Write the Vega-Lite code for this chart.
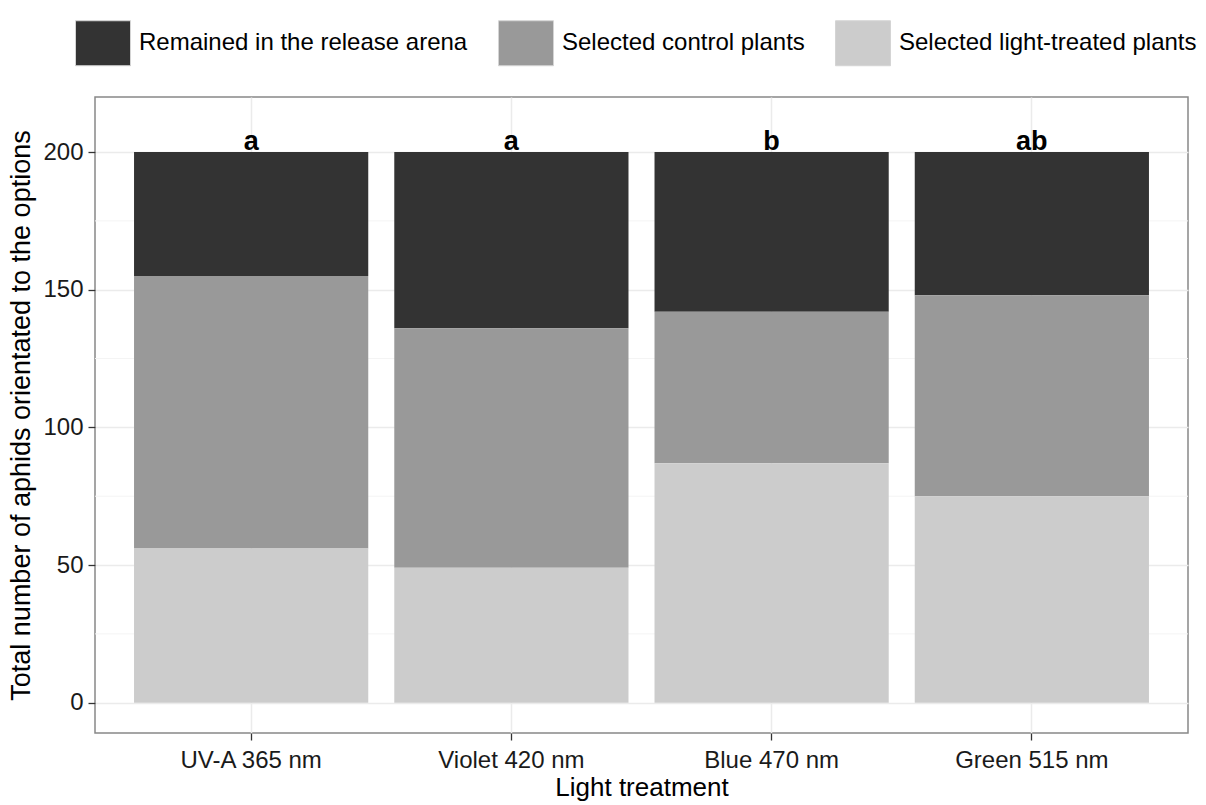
{
  "$schema": "https://vega.github.io/schema/vega-lite/v6.json",
  "autosize": "none",
  "width": 1093,
  "height": 636,
  "padding": {"left": 95, "top": 97, "right": 18, "bottom": 72},
  "background": "white",
  "config": {
    "font": "Liberation Sans",
    "view": {"stroke": "#888888", "strokeWidth": 1.5},
    "axis": {
      "labelFont": "Liberation Sans",
      "titleFont": "Liberation Sans",
      "labelFontSize": 24,
      "titleFontSize": 26,
      "titleFontWeight": "normal",
      "labelColor": "#1a1a1a",
      "titleColor": "#000000",
      "tickColor": "#333333",
      "tickSize": 7,
      "tickWidth": 1.3,
      "domain": false,
      "gridColor": "#ebebeb",
      "gridWidth": 1.5
    },
    "legend": {
      "labelFont": "Liberation Sans",
      "labelFontSize": 24,
      "labelColor": "#000000",
      "labelLimit": 0
    }
  },
  "datasets": {
    "counts": [
      {"treatment": "UV-A 365 nm", "group": "Remained in the release arena", "n": 45},
      {"treatment": "UV-A 365 nm", "group": "Selected control plants", "n": 99},
      {"treatment": "UV-A 365 nm", "group": "Selected light-treated plants", "n": 56},
      {"treatment": "Violet 420 nm", "group": "Remained in the release arena", "n": 64},
      {"treatment": "Violet 420 nm", "group": "Selected control plants", "n": 87},
      {"treatment": "Violet 420 nm", "group": "Selected light-treated plants", "n": 49},
      {"treatment": "Blue 470 nm", "group": "Remained in the release arena", "n": 58},
      {"treatment": "Blue 470 nm", "group": "Selected control plants", "n": 55},
      {"treatment": "Blue 470 nm", "group": "Selected light-treated plants", "n": 87},
      {"treatment": "Green 515 nm", "group": "Remained in the release arena", "n": 52},
      {"treatment": "Green 515 nm", "group": "Selected control plants", "n": 73},
      {"treatment": "Green 515 nm", "group": "Selected light-treated plants", "n": 75}
    ],
    "letters": [
      {"treatment": "UV-A 365 nm", "total": 200, "letter": "a"},
      {"treatment": "Violet 420 nm", "total": 200, "letter": "a"},
      {"treatment": "Blue 470 nm", "total": 200, "letter": "b"},
      {"treatment": "Green 515 nm", "total": 200, "letter": "ab"}
    ],
    "minor": [{"v": 25}, {"v": 75}, {"v": 125}, {"v": 175}]
  },
  "layer": [
    {
      "data": {"name": "minor"},
      "mark": {"type": "rule", "color": "#f4f4f4", "strokeWidth": 1},
      "encoding": {
        "y": {"field": "v", "type": "quantitative"}
      }
    },
    {
      "data": {"name": "counts"},
      "mark": {"type": "bar"},
      "encoding": {
        "x": {
          "field": "treatment",
          "type": "nominal",
          "sort": ["UV-A 365 nm", "Violet 420 nm", "Blue 470 nm", "Green 515 nm"],
          "scale": {"paddingInner": 0.1, "paddingOuter": 0.15},
          "axis": {"title": "Light treatment", "labelAngle": 0, "labelPadding": 8, "titlePadding": 2, "grid": true}
        },
        "y": {
          "field": "n",
          "type": "quantitative",
          "stack": "zero",
          "scale": {"domain": [-11, 220], "nice": false, "zero": false},
          "axis": {"title": "Total number of aphids orientated to the options", "titleFontSize": 27, "values": [0, 50, 100, 150, 200], "labelPadding": 5, "titlePadding": 7, "grid": true}
        },
        "color": {
          "field": "group",
          "type": "nominal",
          "scale": {
            "domain": ["Remained in the release arena", "Selected control plants", "Selected light-treated plants"],
            "range": ["#333333", "#999999", "#cccccc"]
          },
          "legend": {
            "title": null,
            "orient": "none",
            "legendX": -20,
            "legendY": -82,
            "direction": "horizontal",
            "columns": 3,
            "symbolType": "M-1,-0.818H1V0.818H-1Z",
            "symbolSize": 3025,
            "symbolStrokeColor": "#d4d4d4",
            "symbolStrokeWidth": 1,
            "symbolOpacity": 1,
            "labelOffset": 8,
            "columnPadding": 28
          }
        },
        "order": {"field": "group", "sort": "descending"}
      }
    },
    {
      "data": {"name": "letters"},
      "mark": {"type": "text", "font": "Liberation Sans", "fontWeight": "bold", "fontSize": 27, "baseline": "alphabetic", "dy": -2, "color": "#000000"},
      "encoding": {
        "x": {"field": "treatment", "type": "nominal", "sort": ["UV-A 365 nm", "Violet 420 nm", "Blue 470 nm", "Green 515 nm"]},
        "y": {"field": "total", "type": "quantitative"},
        "text": {"field": "letter"}
      }
    }
  ]
}
